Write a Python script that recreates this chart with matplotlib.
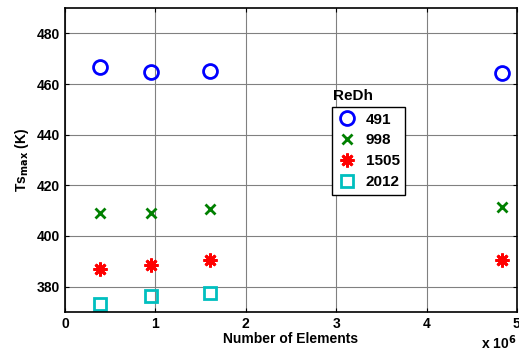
import matplotlib.pyplot as plt
import numpy as np

plt.rcParams['font.family'] = 'Liberation Sans'
plt.rcParams['font.weight'] = 'bold'

# number of elements (x 10^6)
elements = [0.39, 0.95, 1.60, 4.83]
re_labels = ['491', '998', '1505', '2012']
ts_491 = [466.6, 464.8, 465.2, 464.2]
ts_998 = [409.2, 409.2, 410.8, 411.6]
ts_1505 = [387.0, 388.4, 390.3, 390.3]
ts_2012 = [373.2, 376.4, 377.5]

fig = plt.figure(figsize=(5.19, 3.56), dpi=100)
ax = fig.add_axes([0.125, 0.124, 0.871, 0.853])

ax.plot(elements, ts_491, 'o', ls='none', mfc='none', mec='#0000ff', mew=2, ms=10, label=re_labels[0])
ax.plot(elements, ts_998, 'x', ls='none', color='#008000', mew=2, ms=7, label=re_labels[1])
ax.plot(elements, ts_1505, marker=(8, 2, 0), ls='none', color='#ff0000', mew=2, ms=10, label=re_labels[2])
ax.plot(elements[:3], ts_2012, 's', ls='none', mfc='none', mec='#00bfbf', mew=2, ms=9, label=re_labels[3])

ax.set_xlim(0, 5)
ax.set_ylim(370, 490)
ax.set_xticks(np.arange(0, 6, 1))
ax.set_yticks(np.arange(380, 481, 20))
ax.grid(True, color='#808080', lw=0.8)
ax.set_axisbelow(True)
ax.tick_params(direction='in', top=True, right=True, labelsize=10, length=3)
for s in ax.spines.values():
    s.set_linewidth(1.2)

ax.set_xlabel('Number of Elements', fontsize=10, fontweight='bold', labelpad=1)
ax.set_ylabel(r'Ts$_{\mathbf{max}}$ (K)', fontsize=10, fontweight='bold', labelpad=4)
ax.text(1.0, -0.122, r'x 10$^{\mathbf{6}}$', transform=ax.transAxes, ha='right', va='baseline',
        fontsize=10, fontweight='bold')

leg = ax.legend(loc='upper left', bbox_to_anchor=(0.59, 0.674), fontsize=11, frameon=True,
                fancybox=False, edgecolor='black', framealpha=1, handletextpad=0.6,
                borderpad=0.35, labelspacing=0.45, handlelength=1.3, borderaxespad=0)
leg.get_frame().set_linewidth(1.0)
ax.text(0.593, 0.71, 'ReDh', transform=ax.transAxes, fontsize=11, fontweight='bold', va='center')

fig.savefig('out.png', dpi=100)
